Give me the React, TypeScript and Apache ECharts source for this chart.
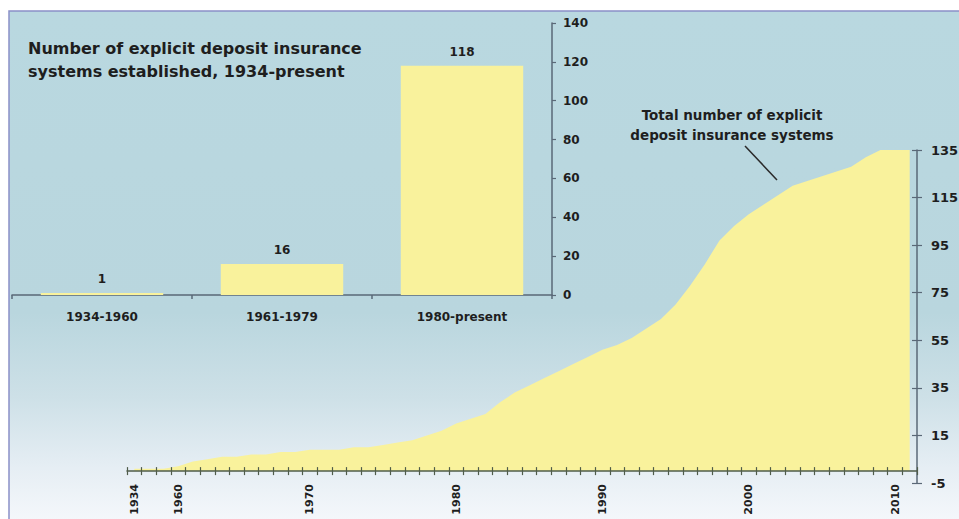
import React, { useEffect, useRef } from "react";
import * as echarts from "echarts";

// Inset bar chart data
const barCategories = ["1934-1960", "1961-1979", "1980-present"];
const barValues = [1, 16, 118];
const barAxisTicks = [0, 20, 40, 60, 80, 100, 120, 140];

// Cumulative area data
const areaYears = [
  "1934", "1950", "1955", "1960", "1962", "1963", "1964", "1965", "1966", "1967", "1968", "1969",
  "1970", "1971", "1972", "1973", "1974", "1975", "1976", "1977", "1978", "1979",
  "1980", "1981", "1982", "1983", "1984", "1985", "1986", "1987", "1988", "1989",
  "1990", "1991", "1992", "1993", "1994", "1995", "1996", "1997", "1998", "1999",
  "2000", "2001", "2002", "2003", "2004", "2005", "2006", "2007", "2008", "2009",
  "2010", "2011",
];
const cumulativeSystems = [
  1, 1, 1, 2, 4, 5, 6, 6, 7, 7, 8, 8,
  9, 9, 9, 10, 10, 11, 12, 13, 15, 17,
  20, 22, 24, 29, 33, 36, 39, 42, 45, 48,
  51, 53, 56, 60, 64, 70, 78, 87, 97, 103,
  108, 112, 116, 120, 122, 124, 126, 128, 132, 135,
  135, 135,
];
const labeledYears = ["1934", "1960", "1970", "1980", "1990", "2000", "2010"];
const rightAxisTicks = [-5, 15, 35, 55, 75, 95, 115, 135];

const titleText = "Number of explicit deposit insurance\nsystems established, 1934-present";
const annotationText = "Total number of explicit\ndeposit insurance systems";

const YELLOW = "#f9f29c";
const AXIS = "#5a6877";
const XAXIS = "#4f5c4a";
const TEXT = "#1e1e1e";
const FONT = '"DejaVu Sans", Verdana, sans-serif';

export default function App() {
  const ref = useRef<HTMLDivElement>(null);

  useEffect(() => {
    document.body.style.margin = "0";
    if (!ref.current) return;
    const chart = echarts.init(ref.current, undefined, { renderer: "svg" });

    const labelStyle = { color: TEXT, fontWeight: "bold" as const, fontFamily: FONT };

    chart.setOption({
      animation: false,
      textStyle: { fontFamily: FONT },
      grid: [
        { left: 12, right: 407, top: 23, bottom: 224, outerBoundsMode: "none", containLabel: false },
        { left: 127, right: 42, top: 150, bottom: 36, outerBoundsMode: "none", containLabel: false },
      ],
      xAxis: [
        {
          gridIndex: 0,
          type: "category",
          data: barCategories,
          axisLine: { lineStyle: { color: AXIS, width: 1.5 } },
          axisTick: { show: true, length: 4, lineStyle: { color: AXIS, width: 1.5 } },
          axisLabel: { ...labelStyle, fontSize: 12, margin: 16 },
        },
        {
          gridIndex: 1,
          type: "category",
          position: "bottom",
          z: 5,
          data: areaYears,
          boundaryGap: true,
          axisLine: { onZero: true, lineStyle: { color: XAXIS, width: 1.5 } },
          axisTick: { show: true, interval: 0, length: 4, lineStyle: { color: XAXIS, width: 1.2 } },
          axisLabel: {
            ...labelStyle,
            fontSize: 11,
            rotate: 90,
            margin: 1,
            interval: (_i: number, v: string) => labeledYears.includes(v),
          },
        },
        {
          gridIndex: 1,
          type: "category",
          position: "bottom",
          z: 5,
          data: areaYears,
          boundaryGap: true,
          axisLine: { show: false, onZero: true },
          axisTick: { show: true, interval: 0, inside: true, length: 4, lineStyle: { color: XAXIS, width: 1.2 } },
          axisLabel: { show: false },
        },
      ],
      yAxis: [
        {
          gridIndex: 0,
          type: "value",
          position: "right",
          min: barAxisTicks[0],
          max: barAxisTicks[barAxisTicks.length - 1],
          interval: 20,
          splitLine: { show: false },
          axisLine: { show: true, lineStyle: { color: AXIS, width: 1.5 } },
          axisTick: { show: true, length: 4, lineStyle: { color: AXIS, width: 1.2 } },
          axisLabel: { ...labelStyle, fontSize: 12, margin: 11 },
        },
        {
          gridIndex: 1,
          type: "value",
          position: "right",
          z: 5,
          min: rightAxisTicks[0],
          max: rightAxisTicks[rightAxisTicks.length - 1],
          splitLine: { show: false },
          axisLine: { show: true, lineStyle: { color: AXIS, width: 1.5 } },
          axisTick: { show: true, length: 5, customValues: rightAxisTicks, lineStyle: { color: AXIS, width: 1.2 } },
          axisLabel: { ...labelStyle, fontSize: 13, margin: 14, customValues: rightAxisTicks },
        },
        {
          gridIndex: 1,
          type: "value",
          position: "right",
          z: 5,
          min: rightAxisTicks[0],
          max: rightAxisTicks[rightAxisTicks.length - 1],
          splitLine: { show: false },
          axisLine: { show: false },
          axisTick: { show: true, inside: true, length: 5, customValues: rightAxisTicks, lineStyle: { color: AXIS, width: 1.2 } },
          axisLabel: { show: false },
        },
      ],
      series: [
        {
          type: "bar",
          xAxisIndex: 0,
          yAxisIndex: 0,
          data: barValues,
          barCategoryGap: "32%",
          itemStyle: { color: YELLOW },
          label: { show: true, position: "top", distance: 8, ...labelStyle, fontSize: 12 },
          silent: true,
        },
        {
          type: "line",
          xAxisIndex: 1,
          yAxisIndex: 1,
          data: cumulativeSystems,
          symbol: "none",
          smooth: false,
          lineStyle: { width: 0 },
          areaStyle: { color: YELLOW, opacity: 1 },
          silent: true,
        },
      ],
      graphic: [
        {
          type: "rect",
          z: -100,
          silent: true,
          shape: { x: 9, y: 11, width: 960, height: 520 },
          style: {
            fill: {
              type: "linear",
              x: 0, y: 0, x2: 0, y2: 1,
              colorStops: [
                { offset: 0, color: "#b9d8e0" },
                { offset: 0.58, color: "#b9d6de" },
                { offset: 0.74, color: "#cde0e7" },
                { offset: 0.88, color: "#e6eef4" },
                { offset: 1, color: "#f7f9fc" },
              ],
            },
            stroke: "#8b90c8",
            lineWidth: 1.5,
          },
        },
        {
          type: "text",
          left: 28,
          top: 37,
          z: 100,
          style: {
            text: titleText,
            font: `bold 16px ${FONT}`,
            lineHeight: 23,
            fill: TEXT,
          },
        },
        {
          type: "text",
          x: 732,
          y: 105,
          z: 100,
          style: {
            text: annotationText,
            font: `bold 13.5px ${FONT}`,
            lineHeight: 20,
            fill: TEXT,
            align: "center",
          },
        },
        {
          type: "line",
          z: 100,
          shape: { x1: 745, y1: 146, x2: 777, y2: 180 },
          style: { stroke: "#2a2a2a", lineWidth: 1.5 },
        },
      ],
    });

    return () => chart.dispose();
  }, []);

  return <div ref={ref} style={{ width: 959, height: 519 }} />;
}
